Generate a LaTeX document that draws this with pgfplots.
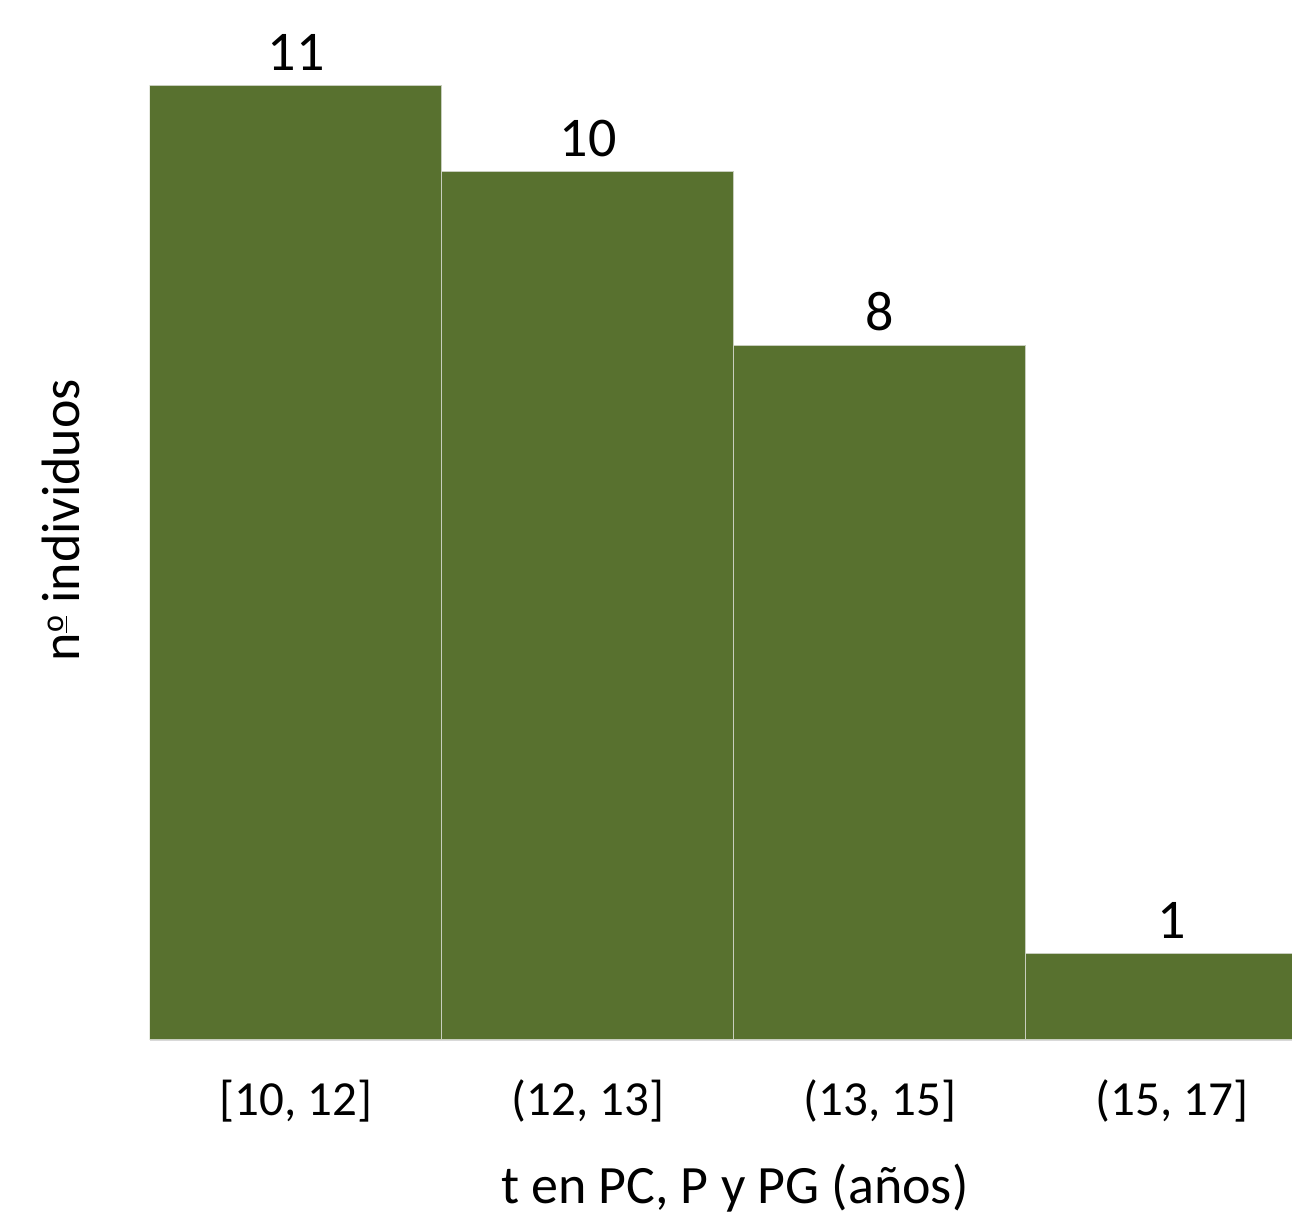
\documentclass[border=0pt]{standalone}
\usepackage{fontspec}
\setmainfont{Carlito}
\usepackage{pgfplots}
\pgfplotsset{compat=1.18}
\definecolor{barfill}{RGB}{88,113,47}
\definecolor{baredge}{RGB}{200,206,190}
\definecolor{baseln}{RGB}{217,217,217}
% masculine ordinal with the underline bar
\newcommand{\ordo}{\raisebox{0.3em}{\fontsize{16}{16}\selectfont\underline{o}}}
\begin{document}
\begin{tikzpicture}
\begin{axis}[
  scale only axis,
  width=571pt, height=520pt,
  xmin=-0.5, xmax=3.411,
  ymin=0, ymax=11.98,
  axis y line*=left,
  y axis line style={draw=none},
  axis x line*=bottom,
  x axis line style={draw=baseln, line width=1.5pt, -},
  xtick={0,1,2,3},
  xticklabels={{[10, 12]},{(12, 13]},{(13, 15]},{(15, 17]}},
  major tick length=0pt,
  xticklabel style={anchor=base, yshift=-38pt, font=\fontsize{24.5}{29}\selectfont},
  ytick=\empty,
  /pgf/number format/assume math mode=true,
  xlabel={t en PC, P y PG (años)},
  xlabel style={at={(rel axis cs:0.512,0)}, anchor=base, yshift=-82pt, font=\fontsize{27}{32}\selectfont},
  ylabel={n\ordo\ individuos},
  ylabel style={at={(rel axis cs:0,0.5)}, anchor=base, yshift=35pt, font=\fontsize{27}{32}\selectfont},
  nodes near coords,
  every node near coord/.append style={anchor=base, yshift=7.5pt, font=\fontsize{28}{33}\selectfont, black},
  clip=true,
]
\addplot[ybar, bar width=1, fill=barfill, draw=baredge, line width=0.5pt]
  coordinates {(0,11) (1,10) (2,8) (3,1)};
\end{axis}
\pgfresetboundingbox
\path (current axis.south west) ++(-75pt,-89.5pt) rectangle (current axis.north east);
\end{tikzpicture}
\end{document}
